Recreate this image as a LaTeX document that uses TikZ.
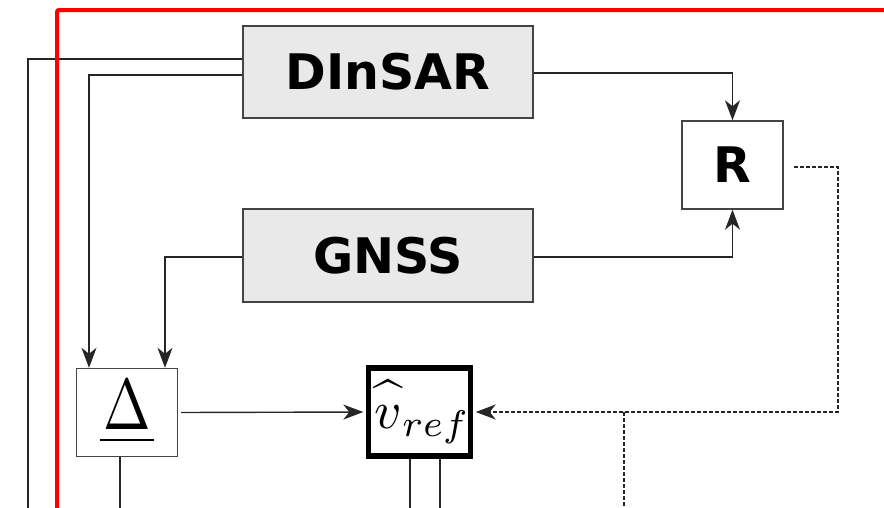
\documentclass[tikz,border=0pt]{standalone}
\usepackage{fontspec}
\newfontfamily\boxfont{DejaVu Sans}
\usetikzlibrary{arrows.meta}
\definecolor{boxgray}{HTML}{E9E9E9}
\definecolor{edgegray}{HTML}{444444}
\definecolor{linegray}{HTML}{262626}
\begin{document}
\begin{tikzpicture}[x=1pt,y=-1pt,
  srcbox/.style={draw=edgegray, fill=boxgray, line width=1.4pt, minimum width=290pt,
    minimum height=92pt, inner sep=0pt, font=\boxfont\bfseries\fontsize{49}{49}\selectfont},
  opbox/.style={draw=edgegray, fill=white, line width=1.4pt, minimum width=101pt,
    minimum height=88pt, inner sep=0pt},
  conn/.style={draw=linegray, line width=1.4pt},
  arr/.style={-{Stealth[length=20pt,width=15pt,inset=6pt]}},
  dashline/.style={draw=linegray, line width=1.5pt, dash pattern=on 4pt off 2pt}]
\useasboundingbox (0,0) rectangle (884,507);
\clip (0,0) rectangle (884,507);

% nodes
\node[srcbox] (dinsar) at (388,72) {DInSAR};
\node[srcbox, minimum height=93pt] (gnss) at (388,255.5) {GNSS};
\node[opbox, font=\boxfont\bfseries\fontsize{49}{49}\selectfont] (r) at (732.5,165) {R};
\node[opbox] (delta) at (127,412.5) {\scalebox{5.7}[7.2]{$\underline{\mkern1mu\Delta\mkern1mu}$}};
\node[opbox, draw=black, line width=5.5pt] (vref) at (419.5,412)
  {\raisebox{-3pt}{\scalebox{5.3}{$\mkern2mu\widehat{\raisebox{0pt}[6.2pt][0pt]{$v$}}_{ref}$}}};

% free ends
\coordinate (bl) at (28,530);
\coordinate (dr) at (838,0);
\coordinate (br) at (624,530);

% connectors
\draw[conn] ([yshift=13pt]dinsar.west) -| (bl);
\draw[conn, arr] ([yshift=-3pt]dinsar.west) -| ([xshift=-38pt]delta.north);
\draw[conn, arr] ([yshift=-1pt]dinsar.east) -| (r.north);
\draw[conn, arr] ([yshift=-1.5pt]gnss.east) -| (r.south);
\draw[conn, arr] ([yshift=-1.5pt]gnss.west) -| ([xshift=38pt]delta.north);
\draw[conn, arr, shorten <=3pt, shorten >=2.5pt] (delta.east) -- (vref.west);
\draw[dashline, arr, shorten >=2.5pt] ([xshift=10pt,yshift=-2pt]r.east) -| (vref.east -| dr) -- (vref.east);
\draw[dashline] (br |- vref.east) -- (br);
\draw[conn] ([xshift=-7pt]delta.south) -- ([xshift=-7pt]delta.south |- bl);
\draw[conn] ([xshift=-9.5pt]vref.south) -- ([xshift=-9.5pt]vref.south |- bl);
\draw[conn] ([xshift=20.5pt]vref.south) -- ([xshift=20.5pt]vref.south |- bl);

% red frame
\draw[red, line width=4pt, rounded corners=2pt] (57,530) -- (57,10) -- (900,10);
\end{tikzpicture}
\end{document}
